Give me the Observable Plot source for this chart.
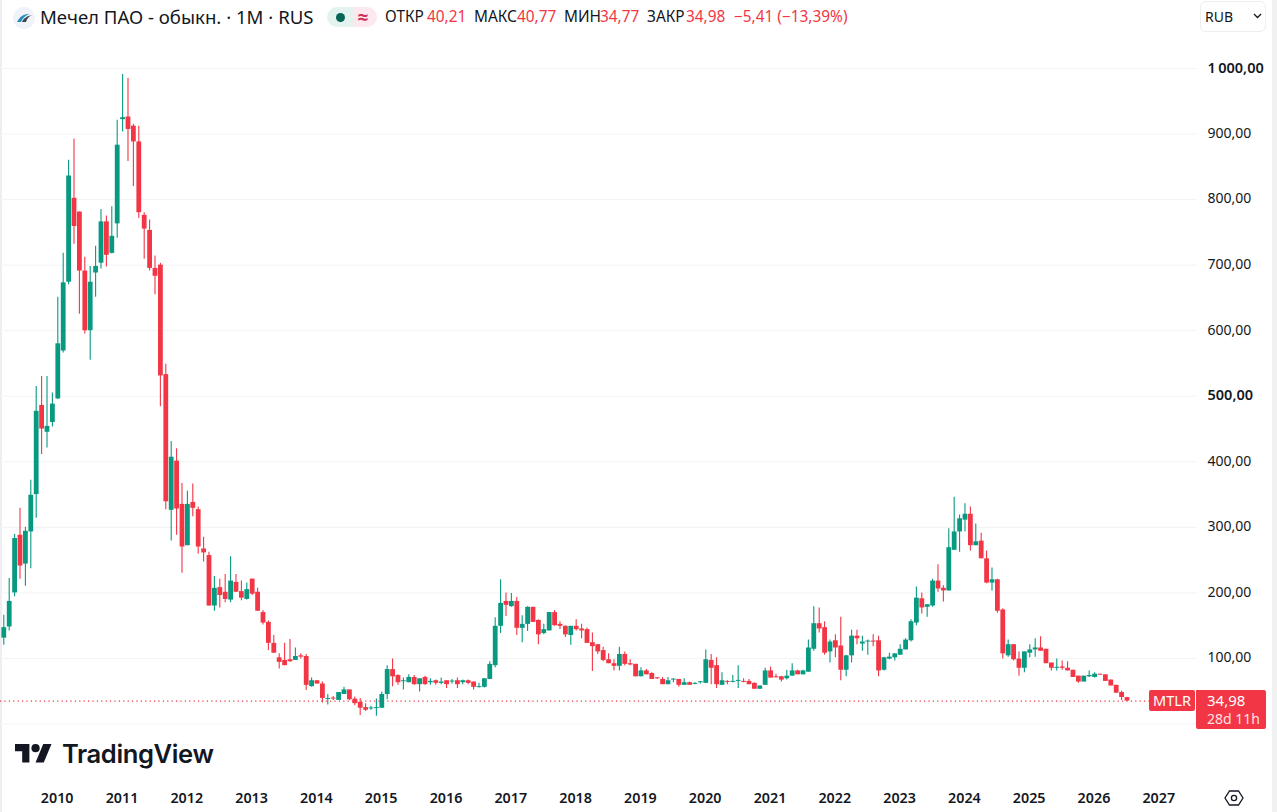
<!DOCTYPE html>
<html lang="ru">
<head>
<meta charset="utf-8">
<script src="https://cdn.jsdelivr.net/npm/d3@7"></script>
<script src="https://cdn.jsdelivr.net/npm/@observablehq/plot@0.6"></script>
<style>
html,body{margin:0;padding:0;background:#fff;width:1277px;height:812px;overflow:hidden;font-family:"Noto Sans","Open Sans",sans-serif;color:#131722}
#page{position:relative;width:1277px;height:812px;border-left:2px solid #eceef2;box-sizing:border-box}
#head{height:36px;position:relative}
#chart{position:absolute;left:-2px;top:36px}
.a{position:absolute;white-space:nowrap}
.h{top:7px;font-size:15.4px;line-height:20px}
.r{color:#f23645}
</style>
</head>
<body>
<div id="page">
  <div id="head"></div>
  <div id="chart"></div>
</div>
<script>
const open = [131,148,200,288,244,293,350,486,445,460,496,569,674,802,781,691,600,688,703,766,718,763,922,926,912,888,776,753,695,700,533,326,401,335,272,338,327,267,257,180,208,201,189,216,202,190,221,201,170,155,123,101,97,98,97,104,103,57,66,61,37.5,39.5,36,45,52,38,33,25,23,23.5,24,45,83,74,64.5,63,71,60,71,63,66,62,66,64,66,63,66,64,55.5,56,68,89,149,187,179,187,146,152,178,158,138,142,170,152,149,135,149,145,144,124,121,112,98,92,88,106,92,91,72,81,77,70.5,68,60,67,68,59,63,60.5,63,62,97,89,59,65,63.5,65,65,65,62,53,59,81,72,72,69,73,81,75,79,114,153,147,110,127,119,82,104,134,122,125,126.5,127,82,99,101,105,113,127,154,191,178,180,218,207,203,265,293,311,320,272,279,252,215,220,174,104,121,99,85,108,113,116,114,93,85,87,85,82,73,64,72,71,76,75,67,59,48,40.21];
const high = [166,222,289,329,300,372,515,530,530,505,651,718,860,892,781,712,698,729,785,775,789,921,991,985,915,912,780,769,714,703,549,431,420,367,355,366,331,285,262,225,221,228,255,228,218,215,221,207,173,157,135,107,123,129,116,107,106,70,66,64,45,42,48,56,52,41,39,31,27,38,49,89,99,75,70,75,74,69,73,69,67,70,66,68,70,67,67,64,62,69,95,162,220,200,199,193,165,179,178,159,152,170,173,156,150,149,159,152,146,139,121,117,107,98,117,110,98,91,86,83,78,71,71,71,69,68,69,64,63,65,113,106,101,78,66,74,89,69,68,63,58,85,87,76,73,82,92,82,82,128,179,177,156,128,136,163,105,143,143,134,128,136,134,102,108,107,121,130,159,209,200,182,221,243,211,298,346,319,336,331,305,291,264,238,221,176,128,121,110,110,121,130,133,114,93,99,96,95,82,73,73,81,78,76,75,67,59,50,40.77];
const low = [120,142,194,221,210,237,314,411,421,453,495,566,670,732,625,595,555,651,694,697,717,741,903,858,820,771,709,691,655,484,327,279,288,230,272,316,259,247,180,172,177,185,185,201,188,189,196,172,151,112,108,84,89,94,97,99,51,56,61,32,29,36,36,45,36,28,13,19,21,12,24,37,57,59,52,63,59,49,59,59,59,60,54,61,54,60,60,52,55,55,68,86,138,164,178,135,124,141,155,121,136,142,149,144,132,120,142,130,123,80,106,95,92,81,81,89,89,72,72,75,68,68,60,60,63,56,59,59,60,61,62,60,54,59,60,63,54,63,60,53,53,59,70,70,64,67,73,75,75,79,111,139,105,93,101,66,72,93,121,111,105,118,72,81,98,96,105,113,125,150,168,163,178,201,186,203,265,262,293,264,272,252,214,203,169,99,102,96,73,78,101,102,111,92,81,81,82,81,71,62,64,71,70,74.5,65,58,47,36,34.77];
const close = [147,187,283,241,294,349,477,450,454,488,580,673,836,759,691,600,674,698,766,715,744,883,925,907,888,780,755,695,683,531,339,407,328,270,335,329,270,261,180,207,196,190,218,201,192,205,198,172,154,123,108,94,89,95,103,102,59,66,61,39,39,38,48,52,37,31,24,21,24.5,25,45,83,72,63,66,71,60,69,60,65,62,64,60,65.5,60,66,62,56,57,69,91,149,184,181,187,146,152,178,155,136,144,170,150,149,136,149,144,142,123,118,110,97,92,88,106,91,90,72,81,75,68,69,60,66,68.5,59,63,59,62,64.5,98,85,60,66,63.5,65,66.5,63.5,60,53,58,81,70,70.5,67,73,81,75,81,116,153,145,108,125,116,82,104,134,130,125,126.5,125,81,101,102,107,114,128,156,192,177,182,218,206,203,269,293,313,320,272,278,252,215,220,172,107,121,98,85,110,113,116,111,92,85,86.5,85,81,71,64,73,74,76,74.5,65,58,47,40.39,34.98];

const priceTicks = [100,200,300,400,600,700,800,900];
const boldPriceTicks = [500,1000];
const gridPrices = [0,100,200,300,400,500,600,700,800,900,1000];
const yearLabels = [2010,2011,2012,2013,2014,2015,2016,2017,2018,2019,2020,2021,2022,2023,2024,2025,2026,2027];
const firstYear = 2009, firstMonth = 2; // March 2009 is the first monthly candle
const lastPrice = 34.98;
const headStats = [["ОТКР",385,0],["40,21",427,1],["МАКС",474,0],["40,77",517,1],["МИН",564,0],["34,77",600,1],["ЗАКР",647,0],["34,98",686,1],["−5,41 (−13,39%)",734,1]];

const up = "#089981", down = "#f23645", ink = "#131722";
const rows = open.map((o,i)=>({i,o,h:high[i],l:low[i],c:close[i],col:close[i]>=o?up:down}));
const yearIndex = y => (y-firstYear)*12-firstMonth;
const priceText = v => (v>=1000 ? "1\u2009000" : String(v))+",00";

const plot = Plot.plot({
  width:1277, height:776, marginLeft:0, marginRight:80, marginTop:32, marginBottom:36,
  style:{fontFamily:'"Noto Sans",sans-serif',background:"transparent",overflow:"visible"},
  x:{domain:[-0.611,221.06],range:[0,1197]},
  y:{domain:[0,1000],range:[687.5,32]},
  color:{type:"identity"},
  marks:[
    Plot.ruleY(gridPrices,{stroke:"#f2f3f5",strokeWidth:1}),
    Plot.ruleY([lastPrice],{x1:-0.611,x2:212.2,stroke:down,strokeWidth:1.3,strokeDasharray:"1.2 3.2"}),
    Plot.ruleX(rows,{x:"i",y1:"l",y2:"h",stroke:"col",strokeWidth:1.1}),
    Plot.ruleX(rows,{x:"i",y1:"o",y2:"c",stroke:"col",strokeWidth:4.8}),
    Plot.axisY({anchor:"right",ticks:priceTicks,tickSize:0,tickPadding:10,dy:-0.6,tickFormat:priceText,fontSize:14,color:ink,label:null}),
    Plot.axisY({anchor:"right",ticks:boldPriceTicks,tickSize:0,tickPadding:10,dy:-0.6,tickFormat:priceText,fontSize:14.5,fontWeight:600,color:ink,label:null}),
    Plot.axisX({ticks:yearLabels.map(yearIndex),tickSize:0,tickPadding:16,dx:-0.6,tickFormat:i=>String(yearLabels[yearLabels.map(yearIndex).indexOf(i)]),fontSize:14.3,fontWeight:600,color:ink,label:null})
  ]
});
document.getElementById("chart").append(plot);

const page = document.getElementById("page");
const head = document.getElementById("head");
function add(parent,html,style,cls){const e=document.createElement("div");e.className="a "+(cls||"");e.style.cssText=style;e.innerHTML=html;parent.append(e);return e;}
// all left offsets are 2px less than picture coordinates because of the left border of #page
add(page,"","left:1270px;top:0;width:5px;height:812px;background:#f0f1f3");
add(head,`<svg width="24" height="24" viewBox="0 0 24 24"><circle cx="12" cy="12" r="11" fill="#f0f3fa"/><path d="M5 16C8 10 12 8 17 8C13 10 11 12 9 16Z" fill="#2a8fbd"/><path d="M10 16C12 12 15 10 20 9C16 11 15 13 14 16Z" fill="#3a4650"/></svg>`,"left:10px;top:6px");
add(head,"Мечел ПАО - обыкн. · 1M · RUS","left:38px;top:5px;font-size:18.6px;line-height:24px");
add(head,`<div class="a" style="left:0;top:0;width:26px;height:20px;border-radius:10px 0 0 10px;background:#e4f3f0"></div><div class="a" style="left:26px;top:0;width:24px;height:20px;border-radius:0 10px 10px 0;background:#fde8ee"></div><div class="a" style="left:8.5px;top:5.5px;width:9px;height:9px;border-radius:50%;background:#056656"></div><div class="a" style="left:26px;top:0;width:20px;height:20px;text-align:center;font-size:19px;line-height:20px;font-weight:700;color:#cc2f5e">≈</div>`,"left:325px;top:7px;width:50px;height:20px");
headStats.forEach(([t,x,red])=>add(head,t,`left:${x-2}px`,"h"+(red?" r":"")));
add(head,`RUB<svg width="9" height="6" viewBox="0 0 9 6" style="position:absolute;left:52px;top:11px"><path d="M1 1l3.5 3.5L8 1" fill="none" stroke="#131722" stroke-width="1.3"/></svg>`,"left:1198px;top:1px;width:66px;height:31px;box-sizing:border-box;border:1px solid #eceef2;border-radius:6px;font-size:14px;line-height:29px;padding-left:4px;background:#fff");

add(page,`<svg width="37" height="21" viewBox="0 4 36 18.4"><path fill="#131722" d="M14 22H7V11H0V4h14v18zM28 22h-8l7.5-18h8L28 22z"/><circle fill="#131722" cx="20" cy="8" r="4"/></svg>`,"left:13px;top:743px");
add(page,"TradingView","left:60px;top:736px;font-family:Inter,'Noto Sans',sans-serif;font-size:25.6px;line-height:36px;font-weight:600;letter-spacing:-.4px");
add(page,`<svg width="20" height="20" viewBox="0 0 20 20"><path d="M5.5 3h9L19 10l-4.5 7h-9L1 10z" fill="none" stroke="#131722" stroke-width="1.3"/><circle cx="10" cy="10" r="2.6" fill="none" stroke="#131722" stroke-width="1.3"/></svg>`,"left:1222px;top:788px");

const yLast = plot.scale("y").apply(lastPrice)+36;
add(page,"MTLR",`left:1147px;top:${yLast-10.5}px;width:46px;height:21px;background:${down};color:#fff;border-radius:2px;font-size:14.5px;line-height:21px;text-align:center`);
add(page,`<div style="font-size:15px;line-height:19px;padding-top:1px;color:#fff">34,98</div><div style="font-size:14px;line-height:17px;color:#fde0e4">28d 11h</div>`,`left:1194px;top:${yLast-10.5}px;width:70px;height:39px;background:${down};border-radius:0 2px 2px 2px;box-sizing:border-box;padding-left:11px`);
</script>
</body>
</html>
